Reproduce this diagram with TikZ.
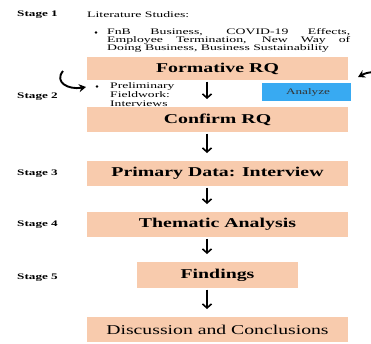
\documentclass[tikz,border=0pt]{standalone}
\usepackage{fontspec}
\usepackage{graphicx}
\setmainfont{Liberation Serif}
\usetikzlibrary{arrows.meta}
\definecolor{boxor}{HTML}{F8CBAD}
\definecolor{boxbl}{HTML}{38AAF2}
\tikzset{
  stagelbl/.style={font=\fontsize{8.5}{9}\selectfont\bfseries, anchor=west, inner sep=0pt},
  obox/.style={draw=none, inner sep=0pt, font=\fontsize{13.5}{15}\selectfont\bfseries},
  flowarr/.style={line width=1.6pt, -{Straight Barb[length=4pt,width=9pt,line width=1.6pt]}, shorten <=1.5pt, shorten >=8pt},
  curvarr/.style={line width=1.9pt, -{Stealth[length=7pt,width=8pt]}},
  body/.style={font=\fontsize{8.5}{8.5}\selectfont, inner sep=0pt, anchor=north west},
  bulletdot/.style={circle, fill=black, inner sep=0pt, minimum size=2.6pt}
}
\begin{document}
\begin{tikzpicture}[x=1pt,y=-1pt]
\useasboundingbox (0,0) rectangle (371,343);
% stage labels
\node[stagelbl] (s1) at (17,15) {\scalebox{1.55}[1]{Stage 1}};
\node[stagelbl] (s2) at (17,97) {\scalebox{1.55}[1]{Stage 2}};
\node[stagelbl] (s3) at (17,174) {\scalebox{1.55}[1]{Stage 3}};
\node[stagelbl] (s4) at (17,225) {\scalebox{1.55}[1]{Stage 4}};
\node[stagelbl] (s5) at (17,278) {\scalebox{1.55}[1]{Stage 5}};
% stage 1 text
\node[body, anchor=west] (lit) at (87,15) {\scalebox{1.62}[1]{Literature Studies:}};
\node[bulletdot] (b1) at (96,32.5) {};
\node[body] (lit1) at (107,28)
  {\scalebox{1.62}[1]{\parbox{150pt}{\fontsize{8.5}{8.2}\selectfont FnB Business, COVID-19 Effects,\linebreak Employee Termination, New Way of\linebreak Doing Business, Business Sustainability}}};
% boxes
\path[fill=boxor] (87,57) rectangle (348,80);
\node[obox] (form) at (217.5,68.5) {\scalebox{1.47}[1]{Formative RQ}};
\coordinate (formS) at (207,80);
\path[fill=boxor] (87,107) rectangle (348,132);
\node[obox] (conf) at (217.5,119.5) {\scalebox{1.47}[1]{Confirm RQ}};
\coordinate (confN) at (207,107);
\coordinate (confS) at (207,132);
\path[fill=boxor] (87,161) rectangle (348,186);
\node[obox] (prim) at (217.5,173.5) {\scalebox{1.47}[1]{Primary Data: Interview}};
\coordinate (primN) at (207,161);
\coordinate (primS) at (207,186);
\path[fill=boxor] (87,212) rectangle (348,237);
\node[obox] (them) at (217.5,224.5) {\scalebox{1.47}[1]{Thematic Analysis}};
\coordinate (themN) at (207,212);
\coordinate (themS) at (207,237);
\path[fill=boxor] (137,262) rectangle (298,288);
\node[obox] (find) at (217.5,275) {\scalebox{1.47}[1]{Findings}};
\coordinate (findN) at (207,262);
\coordinate (findS) at (207,288);
\path[fill=boxor] (87,317) rectangle (348,342);
\node[obox, font=\fontsize{13.5}{15}\selectfont] (disc) at (217.5,329.5) {\scalebox{1.46}[1]{Discussion and Conclusions}};
\coordinate (discN) at (207,317);
% stage 2 items
\node[bulletdot] (b2) at (97,86.5) {};
\node[body] (prel) at (110,82) {\scalebox{1.6}[1]{\parbox{60pt}{\fontsize{8.5}{9}\selectfont Preliminary\\Fieldwork:\\Interviews}}};
\path[fill=boxbl] (262,83) rectangle (351,101);
\node[font=\fontsize{8.5}{9}\selectfont, text=black!80, inner sep=0pt] (ana) at (308,92) {\scalebox{1.55}[1]{Analyze}};
% flow arrows
\draw[flowarr] (formS) -- (confN);
\draw[flowarr] (confS) -- (primN);
\draw[flowarr] (primS) -- (themN);
\draw[flowarr] (themS) -- (findN);
\draw[flowarr] (findS) -- (discN);
% curved arrows
\coordinate (lcurveA) at (63,71);
\coordinate (lcurveB) at (86,87);
\draw[curvarr] (lcurveA) .. controls (54,82) and (68,90) .. (lcurveB);
\coordinate (rcurveA) at (373,72);
\coordinate (rcurveB) at (358,77);
\draw[curvarr] (rcurveA) .. controls (366,73) .. (rcurveB);
\end{tikzpicture}
\end{document}
